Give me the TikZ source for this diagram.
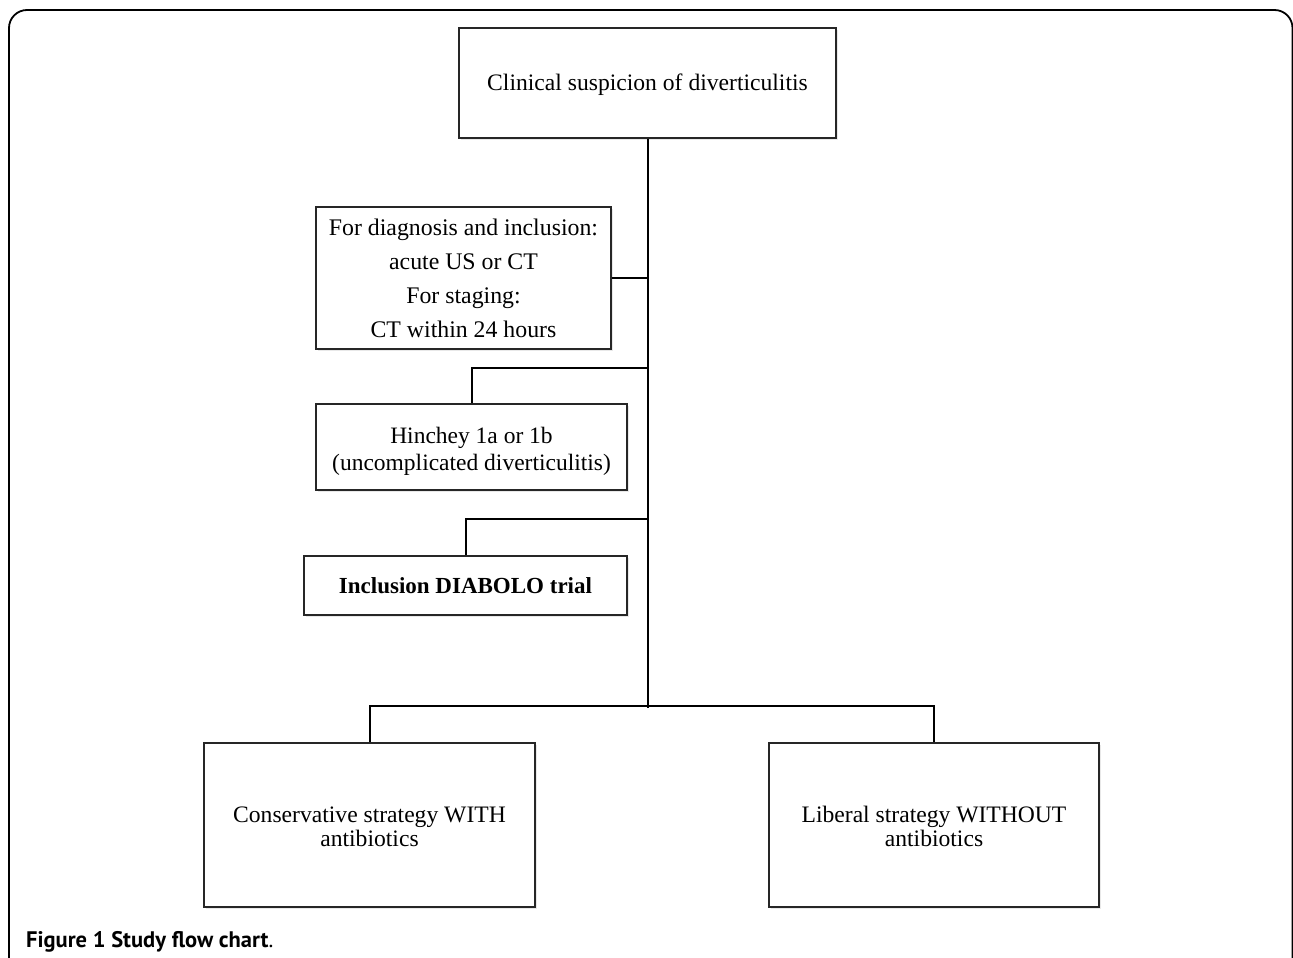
\documentclass[tikz,border=0pt]{standalone}
\usepackage{fontspec}
\setmainfont{Liberation Serif}
\newfontfamily\capfont{PT Sans}
\usetikzlibrary{shadows}
\begin{document}
\begin{tikzpicture}[x=1pt,y=-1pt,
  box/.style={draw=black!85, line width=1.8pt, fill=white, inner sep=0pt, align=center,
    font=\fontsize{23.6}{24}\selectfont,
    drop shadow={opacity=0.18, shadow xshift=2pt, shadow yshift=-2pt}},
  link/.style={draw=black, line width=2pt}]
\useasboundingbox (0,0) rectangle (1293,958);
\draw[line width=1.8pt, rounded corners=18pt] (9,960) -- (9,10) -- (1292.5,10) -- (1292.5,960);
\node[box, minimum width=377pt, minimum height=110pt] (top) at (647.5,83) {\raisebox{-8pt}[0pt][0pt]{Clinical suspicion of diverticulitis}};
\node[box, minimum width=295pt, minimum height=142pt, font=\fontsize{23.8}{34}\selectfont] (diag) at (463.5,278) {For diagnosis and inclusion:\\acute US or CT\\For staging:\\CT within 24 hours};
\node[box, minimum width=311pt, minimum height=86pt, font=\fontsize{23.5}{27}\selectfont] (hin) at (471.5,447) {\rule{0pt}{24pt}Hinchey 1a or 1b\\(uncomplicated diverticulitis)};
\node[box, minimum width=323pt, minimum height=59pt, font=\fontsize{23}{24}\selectfont\bfseries] (dia) at (465.5,585.5) {Inclusion DIABOLO trial};
\node[box, minimum width=331pt, minimum height=164pt] (left) at (369.5,825) {\rule{0pt}{20pt}Conservative strategy WITH\\antibiotics};
\node[box, minimum width=330pt, minimum height=164pt] (right) at (934,825) {\rule{0pt}{20pt}Liberal strategy WITHOUT\\antibiotics};
\path (top.south) ++(0,569) coordinate (jb);
\draw[link] (top.south) -- (jb);
\draw[link] (diag.east) -- (diag.east -| top.south);
\draw[link] (hin.north) -- ++(0,-35) -| (top.south);
\draw[link] (dia.north) -- ++(0,-36) -| (top.south);
\draw[link] (left.north) -- ++(0,-36) -| (right.north);
\node[anchor=base west, inner sep=0pt, font=\capfont\fontsize{22.5}{24}\selectfont] (cap) at (26,947) {\textbf{Figure 1 Study flow chart}.};
\end{tikzpicture}
\end{document}
